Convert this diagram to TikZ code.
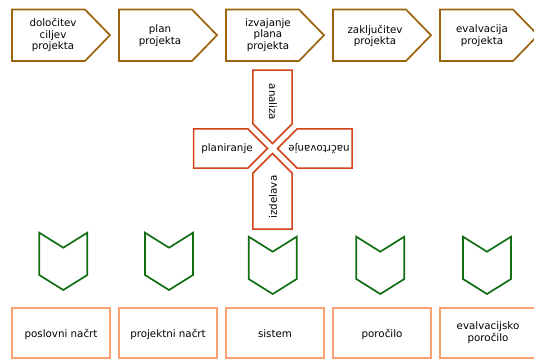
\documentclass[tikz,border=0pt]{standalone}
\usepackage{fontspec}
\setmainfont{DejaVu Sans}
\definecolor{phasebrown}{RGB}{155,100,12}
\definecolor{crossred}{RGB}{210,66,22}
\definecolor{chevgreen}{RGB}{18,110,18}
\definecolor{boxsalmon}{RGB}{250,160,115}
\tikzset{
  phasearrow/.style={draw=phasebrown, line width=1.7pt, line join=miter, fill=white},
  crossarm/.style={draw=crossred, line width=1.5pt, line join=miter, fill=white},
  chevron/.style={draw=chevgreen, line width=1.7pt, line join=miter},
  resultbox/.style={draw=boxsalmon, line width=1.7pt},
  lbl/.style={font=\fontsize{10.3}{11.7}\selectfont, align=center, inner sep=0pt, text=black},
}
\begin{document}
\begin{tikzpicture}[x=1pt,y=-1pt]
\useasboundingbox (0,0) rectangle (534,359);
% top phase arrows
\foreach \L in {12,119,226,333,440}{
  \draw[phasearrow] (\L,9.5) -- ({\L+73},9.5) -- ({\L+98},35.2) -- ({\L+73},61) -- (\L,61) -- cycle;
}
\node[lbl] (p1) at (53,35) {določitev\\ciljev\\projekta};
\node[lbl] (p2) at (160,36) {plan\\projekta};
\node[lbl] (p3) at (268,35) {izvajanje\\plana\\projekta};
\node[lbl] (p4) at (375,36) {zaključitev\\projekta};
\node[lbl] (p5) at (482,36) {evalvacija\\projekta};
% cross
\draw[crossarm] (193.5,128.8) -- (247.8,128.8) -- (267.5,148.5) -- (247.8,168.2) -- (193.5,168.2) -- cycle;
\draw[crossarm] (252.8,70) -- (292.2,70) -- (292.2,123.8) -- (272.5,143.5) -- (252.8,123.8) -- cycle;
\draw[crossarm] (352,128.8) -- (297.2,128.8) -- (277.5,148.5) -- (297.2,168.2) -- (352,168.2) -- cycle;
\draw[crossarm] (252.8,229) -- (292.2,229) -- (292.2,173.2) -- (272.5,153.5) -- (252.8,173.2) -- cycle;
\node[lbl] (c1) at (227,149) {planiranje};
\node[lbl, rotate=-90] (c2) at (273,102) {analiza};
\node[lbl, rotate=180] (c3) at (319,149) {načrtovanje};
\node[lbl, rotate=90] (c4) at (273,197) {izdelava};
% green chevrons
\foreach \cx/\top in {63.3/232.7,169/232.7,272.7/236.7,380.3/236.7,487/236.7}{
  \draw[chevron] ({\cx-24},\top) -- (\cx,{\top+15}) -- ({\cx+24},\top) -- ({\cx+24},{\top+42.3}) -- (\cx,{\top+57.3}) -- ({\cx-24},{\top+42.3}) -- cycle;
}
% result boxes
\foreach \L in {12,119,226,333,440}{
  \draw[resultbox] (\L,308) rectangle ({\L+98},358);
}
\node[lbl] (r1) at (61,334) {poslovni načrt};
\node[lbl] (r2) at (168,334) {projektni načrt};
\node[lbl] (r3) at (275,334) {sistem};
\node[lbl] (r4) at (382,334) {poročilo};
\node[lbl] (r5) at (488,333) {evalvacijsko\\poročilo};
\end{tikzpicture}
\end{document}
